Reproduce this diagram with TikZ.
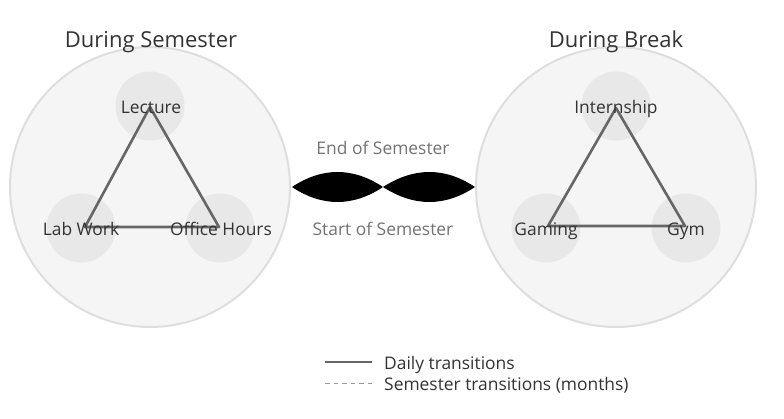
\documentclass[tikz,border=0pt]{standalone}
\usepackage{fontspec}
\setmainfont{Open Sans}
\begin{document}
\begin{tikzpicture}[x=1pt,y=-1pt,
  bigcirc/.style={circle,draw=black!13,line width=2pt,fill=black!4,minimum size=280pt,inner sep=0pt},
  smallcirc/.style={circle,fill=black!9,minimum size=69pt,inner sep=0pt},
  title/.style={text=black!80,font=\fontsize{22}{26}\selectfont,inner sep=0pt},
  lab/.style={text=black!80,font=\fontsize{17.4}{20}\selectfont,inner sep=0pt,text height=12.5pt,text depth=3.5pt,yshift=-2.5pt},
  mid/.style={text=black!55,font=\fontsize{17.4}{20}\selectfont,inner sep=0pt,text height=12.5pt,text depth=3.5pt,yshift=-2.5pt},
  daily/.style={draw=black!60,line width=2.6pt},
  sem/.style={draw=black!40,line width=0.8pt,dash pattern=on 4.5pt off 4pt},
  lens/.style={fill=black}]
\useasboundingbox (0,0) rectangle (784,418);
\node[bigcirc] (L) at (150,187) {};
\node[bigcirc] (R) at (616,187) {};
\node[title] (tL) at (151,42) {During Semester};
\node[title] (tR) at (616,42) {During Break};
\node[smallcirc] (cLec) at (150,106) {};
\node[smallcirc] (cLab) at (81,228) {};
\node[smallcirc] (cOff) at (220,228) {};
\node[smallcirc] (cInt) at (616,106) {};
\node[smallcirc] (cGam) at (546,228) {};
\node[smallcirc] (cGym) at (686,228) {};
\coordinate (pLec) at (150,107);
\coordinate (pLab) at (85,227);
\coordinate (pOff) at (219,227);
\coordinate (pInt) at (616,108);
\coordinate (pGam) at (548,226);
\coordinate (pGym) at (685,226);
\draw[daily,line join=round] (pLec) -- (pLab) -- (pOff) -- cycle;
\draw[daily,line join=round] (pInt) -- (pGam) -- (pGym) -- cycle;
\node[lab] (nLec) at (151,106) {Lecture};
\node[lab] (nLab) at (81,228) {Lab Work};
\node[lab] (nOff) at (221,228) {Office Hours};
\node[lab] (nInt) at (616,106) {Internship};
\node[lab] (nGam) at (546,228) {Gaming};
\node[lab] (nGym) at (686,228) {Gym};
\coordinate (a1) at (292,187);
\coordinate (a2) at (383,187);
\coordinate (a3) at (475,187);
\fill[lens] (a1) .. controls (322,167) and (353,167) .. (a2) .. controls (353,207) and (322,207) .. (a1) -- cycle;
\fill[lens] (a2) .. controls (414,167) and (445,167) .. (a3) .. controls (445,207) and (414,207) .. (a2) -- cycle;
\node[mid] (tEnd) at (383,147) {End of Semester};
\node[mid] (tStart) at (383,228) {Start of Semester};
\coordinate (d1) at (325,362);
\coordinate (d2) at (372,362);
\coordinate (s1) at (325,383);
\coordinate (s2) at (372,383);
\draw[daily,line width=2.4pt] (d1) -- (d2);
\draw[sem] (s1) -- (s2);
\node[lab,anchor=west] (lDaily) at (384,362) {Daily transitions};
\node[lab,anchor=west] (lSem) at (384,383) {Semester transitions (months)};
\end{tikzpicture}
\end{document}
